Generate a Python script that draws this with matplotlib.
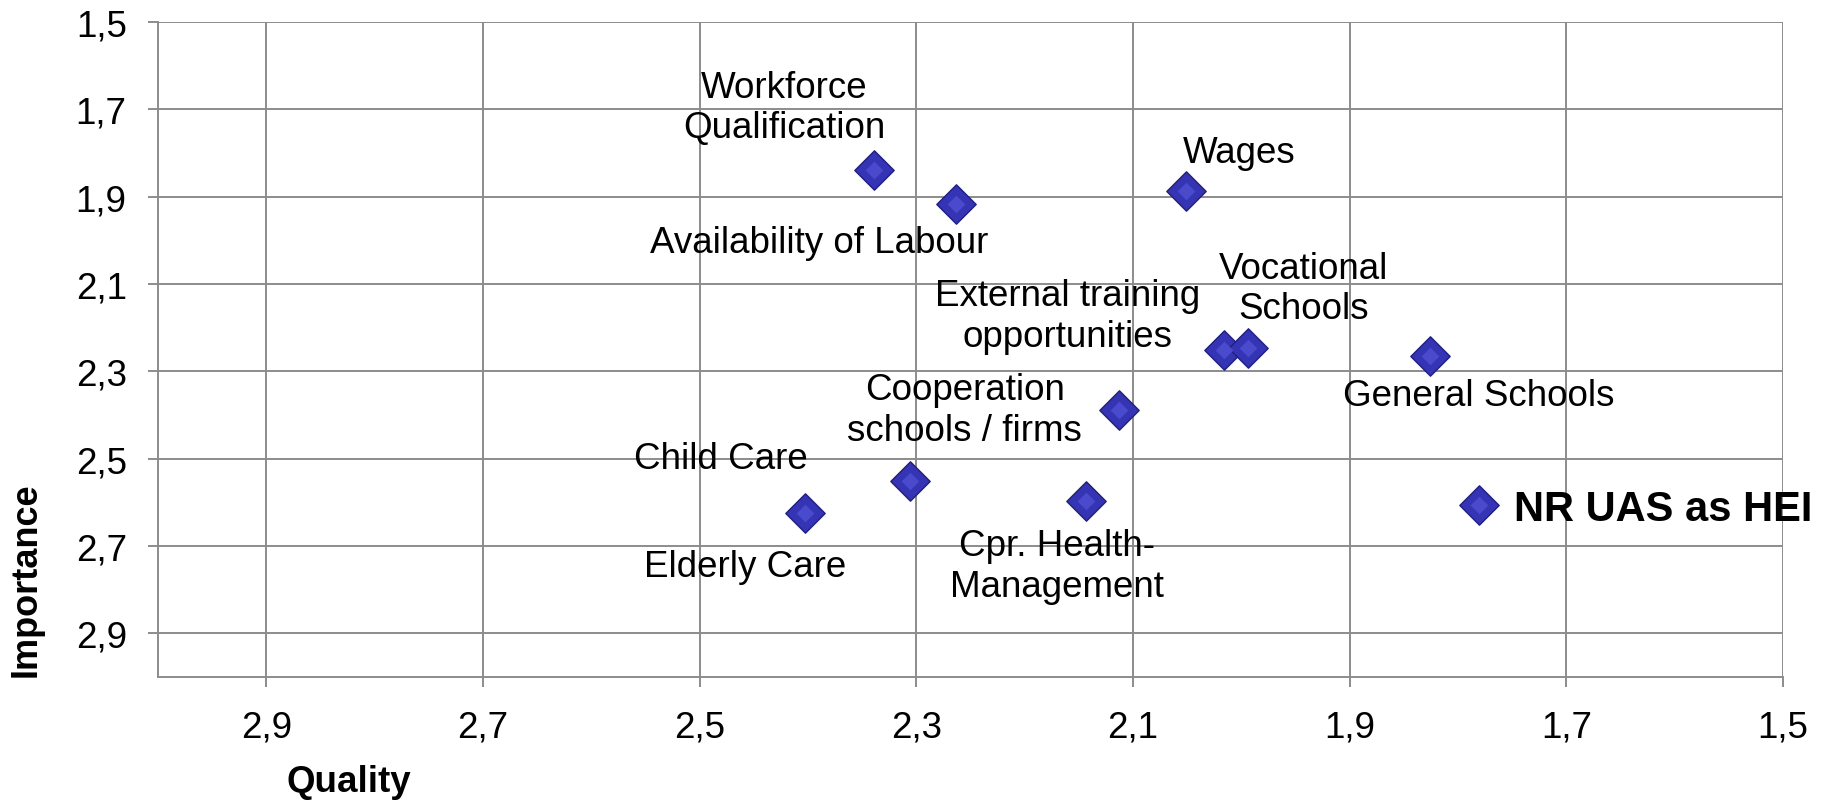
import matplotlib
matplotlib.use("Agg")
import matplotlib.pyplot as plt
import numpy as np

plt.rcParams['font.family'] = ['Liberation Sans', 'DejaVu Sans']

labels = ["Workforce\nQualification", "Availability of Labour", "Wages",
          "External training\nopportunities", "Vocational\nSchools", "General Schools",
          "Cooperation\nschools / firms", "Child Care", "Elderly Care",
          "Cpr. Health-\nManagement", "NR UAS as HEI"]
quality = [2.339, 2.263, 2.051, 2.016, 1.994, 1.826, 2.113, 2.306, 2.403, 2.143, 1.781]
importance = [1.84, 1.916, 1.886, 2.251, 2.246, 2.265, 2.389, 2.551, 2.624, 2.597, 2.605]
ticks = [1.5, 1.7, 1.9, 2.1, 2.3, 2.5, 2.7, 2.9]

# label offsets in pixels (dx, dy)
offsets = [(-90, 63), (-137, -39), (53, 38), (-156, 34), (56, 59), (49, -39),
           (-154, 0), (-189, 22), (-60, -54), (-29, -65), (35, -4)]

fig = plt.figure(figsize=(18.38, 8.03), dpi=100)
ax = fig.add_axes([158/1838, 1-678/803, (1783-158)/1838, (678-23)/803])

ax.set_xlim(3.0, 1.5)
ax.set_ylim(3.0, 1.5)
ax.set_xticks(ticks)
ax.set_yticks(ticks)
ax.set_xticklabels([f"{t:.1f}".replace('.', ',') for t in ticks])
ax.set_yticklabels([f"{t:.1f}".replace('.', ',') for t in ticks])
gc = '#8c8c8c'
ax.grid(True, color=gc, linewidth=1.4)
ax.set_axisbelow(True)
for s in ['top', 'right']:
    ax.spines[s].set_visible(False)
for s in ['left', 'bottom']:
    ax.spines[s].set_color(gc)
    ax.spines[s].set_linewidth(1.4)
ax.tick_params(axis='both', colors=gc, labelcolor='black', labelsize=26.5,
               length=7.5, width=1.4, direction='out')
ax.tick_params(axis='y', pad=15)
ax.tick_params(axis='x', pad=16)

# shadow + marker
ax.scatter(quality, importance, marker='D', s=21**2, color='#000000', alpha=0.12,
           linewidths=0, zorder=3, clip_on=False)
ax.scatter(quality, importance, marker='D', s=20**2, facecolor='#3434b4',
           edgecolor='#20207e', linewidths=1.0, zorder=4, clip_on=False)
ax.scatter(quality, importance, marker='D', s=9**2, facecolor='#4a4acc',
           linewidths=0, zorder=5, clip_on=False)

for i, (lab, q, imp) in enumerate(zip(labels, quality, importance)):
    dx, dy = offsets[i]
    if i == len(labels) - 1:
        ax.annotate(lab, (q, imp), xytext=(dx, dy), textcoords='offset pixels',
                    ha='left', va='center', fontsize=30, fontweight='bold',
                    annotation_clip=False)
    else:
        ax.annotate(lab, (q, imp), xytext=(dx, dy), textcoords='offset pixels',
                    ha='center', va='center', fontsize=26.5, linespacing=1.2,
                    annotation_clip=False)

fig.text(26/1838, 1-580/803, "Importance", rotation=90, ha='center', va='center',
         fontsize=26, fontweight='bold')
fig.text(349/1838, 1-783/803, "Quality", ha='center', va='center',
         fontsize=26.5, fontweight='bold')

fig.savefig("out.png", dpi=100)
